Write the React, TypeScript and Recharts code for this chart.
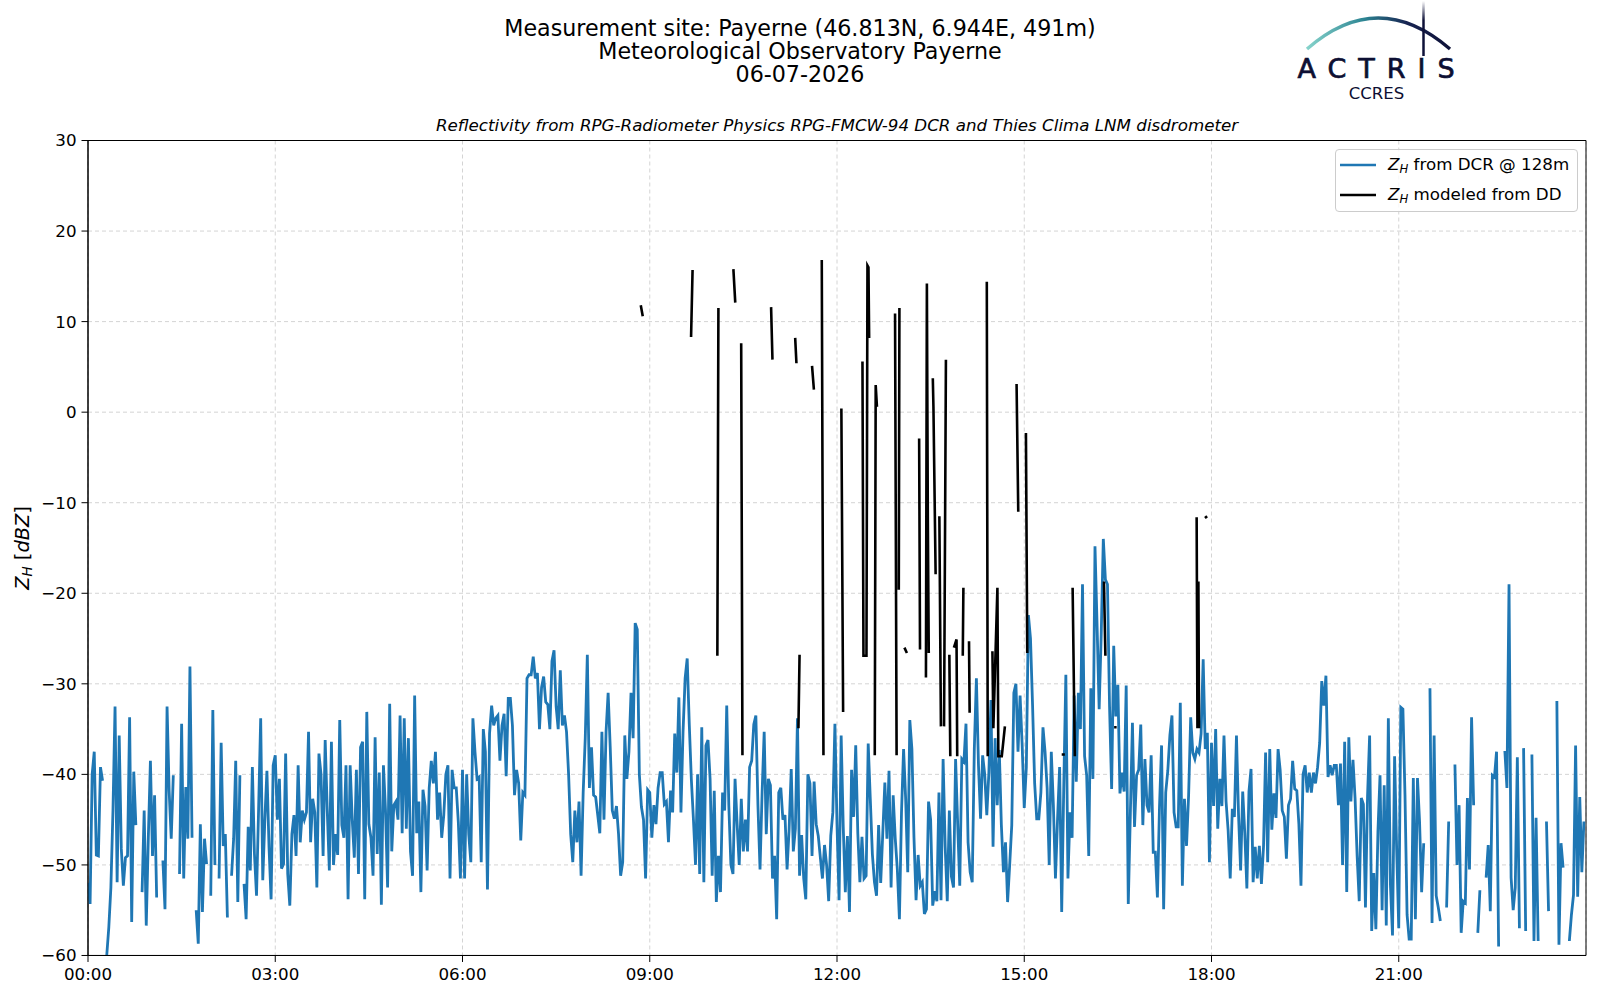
import React from "react"
import { LineChart, Line, XAxis, YAxis, CartesianGrid, Legend, ReferenceArea } from "recharts"

const FONT = "'DejaVu Sans', sans-serif"

// Z_H from the DCR at 128 m, one value every 2 minutes, in 3-hour blocks (null = no data)
const dcr0003 = [
  -52, -54.3, -40, -37.5, -48.9, -49, -39.2, -40.7, null, -60,
  -56.9, -52.5, -44, -32.5, -51.9, -35.7, -48.2, -52.3, -49.2, -49,
  -33.7, -56.3, -39.7, -45.6, null, null, -53, -44, -56.7, -46.9,
  -38.5, -49, -42.3, -53.6, null, null, -49.5, -54.9, -32.5, -41.8,
  -47.1, -40.1, null, null, -51, -34.4, -51.5, -41.4, -47.1, -28.1,
  -47, null, -55, -58.7, -45.5, -55.2, -47.1, -49.9, null, -53.4,
  -32.9, -50, null, -51.5, -36.5, -47.9, -46.6, -55.8, null, -51.2,
  -47.1, -38.5, -54.1, -40.1, null, -52.1, -56, -45.8, -50.6, -39.2,
  -48.8, -53.4, -43.8, -33.8, -51.7, -45, -39.6, -48, -53.8, -39,
]
const dcr0306 = [
  -37.9, -45, -40.5, -50.4, -49.9, -37.7, -51, -54.5, -46.6, -44.5,
  -49, -39, -47.5, -44, -45, -44.2, -35.3, -47.5, -42.7, -44.2,
  -52.5, -37.7, -40, -49, -36.2, -44, -50.6, -36.4, -50, -46.6,
  -48.9, -34, -45.6, -47, -39, -53.8, -39, -45, -49.2, -39.5,
  -51, -37, -36.4, -53.8, -33.1, -45.5, -47, -51.2, -35.9, -48.8,
  -39.8, -54.4, -39, -44, -52.5, -32.2, -48.5, -43.4, -43, -45,
  -33.5, -46.5, -33.8, -46, -36, -48.5, -51.2, -31.3, -46.5, -43,
  -53, -41.7, -43.5, -50.6, -41.5, -38.5, -41, -37.5, -45, -42,
  -47, -44.5, -40, -39, -51.5, -39.5, -41.5, -41.5, -45.3, -51.5,
]
const dcr0609 = [
  -39.5, -51.5, -40, -46.6, -49.7, -33.8, -37.5, -40.5, -40.3, -49.7,
  -35, -37.5, -52.7, -35.5, -32.4, -34.6, -33.8, -33.5, -38.5, -34.6,
  -33.3, -40.2, -31.6, -31.6, -34.6, -42.3, -39.5, -41, -47.3, -42,
  -42.3, -29.4, -29, -29, -27, -29.4, -28.8, -35, -30.4, -29.2,
  -32, -32.3, -35, -27.5, -26.3, -32.5, -35, -28.5, -34.6, -33.5,
  -35.3, -40, -46.6, -49.7, -44, -47.5, -43, -51.2, -42, -36,
  -26.8, -41.5, -37, -42.3, -42.5, -44.5, -46.5, -35.3, -45, -35.3,
  -31, -37, -44, -44.9, -43.5, -46.6, -51.2, -49.7, -35.7, -40.5,
  -37.5, -31, -36, -23.3, -24, -40, -43.6, -45, -51.5, -41.7,
]
const dcr0912 = [
  -42, -47, -43.4, -45.5, -41.5, -39.8, -39.8, -43.3, -43, -47.5,
  -41.8, -44.2, -35.5, -39.8, -31.5, -44.2, -35.3, -29.4, -27.2, -34.5,
  -40.6, -45, -50, -40, -51, -34.8, -51.9, -36.8, -36.2, -40.5,
  -51.2, -41.8, -54.1, -49, -53, -42, -44, -32.4, -43.4, -50,
  -51, -40.5, -45.5, -50, -42.7, -48.5, -45, -48.5, -39.2, -38.5,
  -34.5, -33.5, -43.4, -50.5, -42, -35.3, -46.6, -40.5, -41.2, -51.5,
  -49, -56, -42, -41.5, -45, -44.5, -50.5, -46, -39.4, -48.5,
  -46, -33.8, -51.2, -46.7, -51.5, -53.8, -40, -41, -49, -40.8,
  -45.5, -46.8, -49.2, -51.5, -47.8, -50, -54, -46.8, -44.2, -34.4,
]
const dcr1215 = [
  -45.5, -53.9, -35.7, -45.8, -53, -46.8, -55.2, -39.5, -44.7, -36.8,
  -46.5, -51.9, -46.9, -51.5, -51.2, -36.6, -42.7, -48.8, -51.9, -53.4,
  -45.6, -52, -46.5, -40.9, -47.1, -39.6, -52.5, -42.3, -47.1, -50.5,
  -56, -44.2, -37.2, -42.7, -50.8, -34, -37.2, -47, -53.9, -48.9,
  -52.3, -51.9, -55.4, -54.9, -43, -45, -54.5, -52.9, -54, -42,
  -53.9, -38.3, -48, -54, -44, -51.3, -52.5, -38.3, -45.5, -52.3,
  -38.3, -38.6, -34.4, -47.5, -50.8, -51.9, -37.2, -29.4, -39, -44.9,
  -37.9, -40, -44.5, -39.8, -31.8, -48, -36, -43.4, -37.3, -45.6,
  -50.8, -47.5, -54.1, -50, -45.6, -31, -30, -37.5, -31.3, -36.8,
]
const dcr1518 = [
  -43.7, -39.2, -22.4, -25, -32.4, -41, -44.9, -44.9, -42, -34.8,
  -37.5, -41.5, -50, -37.5, -43.4, -51.5, -45, -39.2, -55.2, -41.2,
  -29, -51.5, -44.2, -47, -31.3, -40.8, -31, -35, -19, -38,
  -40.1, -49, -30.5, -40.5, -14.8, -23.5, -32.8, -24.5, -14, -18.5,
  -19, -32.5, -41.6, -25.8, -33.6, -30.1, -42.1, -39.8, -41.9, -30.2,
  -54.3, -44.3, -34.3, -45.8, -40.1, -39.5, -34.5, -45.6, -38.3, -43.4,
  -44.2, -37.9, -48.6, -48.6, -53.6, -43.6, -36.8, -54.9, -42, -39.6,
  -35.7, -33.5, -44.2, -45.8, -45.8, -32.1, -52.3, -42.7, -47.9, -42.3,
  -33.7, -37.6, -38.3, -37.2, -37.6, -35.5, -27.3, -37.2, -35.4, -49.7,
]
const dcr1821 = [
  -36.5, -43.5, -35, -46, -40.5, -43.5, -35.7, -43, -46.2, -51.5,
  -43.8, -44.7, -35.7, -44.5, -50.6, -41.9, -46.5, -52.6, -41.9, -39.4,
  -51.9, -48, -51.5, -47.9, -52.1, -48, -37.6, -49.7, -37.2, -46.1,
  -42.1, -44.8, -37.2, -39.5, -44, -44.7, -49.3, -43.4, -42.7, -38.5,
  -41.6, -41.8, -45.5, -52.3, -40, -39, -42, -39.8, -42, -39.8,
  -41, -39.2, -36.5, -29.7, -32.4, -29.1, -40.3, -39, -40.1, -39,
  -39, -43.4, -38.8, -50, -36.4, -53, -35.9, -43, -38.4, -42.6,
  -49, -54, -42.6, -43.3, -54.7, -42.4, -35.7, -57.3, -50.9, -57.1,
  -46.3, -40.1, -55, -41.2, -56.7, -33.8, -52.2, -57.8, -38, -48.3,
]
const dcr2124 = [
  -57, -32.6, -32.8, -42.3, -55.5, -58.2, -58.2, -40.4, -56, -40.4,
  -45.2, -53, -47.6, null, null, -30.5, -56.4, -35.7, -53.4, -54.7,
  -56.2, null, null, -54.7, -45.2, null, null, -38.9, -50, -43.4,
  -57.5, -54, -54.2, -42.6, -50.5, -33.7, -43.4, null, -57.5, -52.8,
  null, null, -51.4, -47.8, -55.1, -40.1, -40.3, -37.5, -59, null,
  null, -37.4, -41.5, -19, -51.4, -55, -52.5, -38.1, -57, null,
  -37.1, -57.3, null, null, -37.8, -58.4, -44.8, -58.4, null, null,
  null, -45.2, -55.1, null, null, null, -31.9, -58.8, -47.6, -50.3,
  null, null, -58.4, -55.5, -53.3, -36.8, -53.5, -42.5, -50.8, -45.2,
]
const dcrBlocks = [dcr0003, dcr0306, dcr0609, dcr0912, dcr1215, dcr1518, dcr1821, dcr2124]
const DCR_STEP_H = 2 / 60

// Z_H modeled from the disdrometer: short pieces of [hour, dBZ]
const ddPieces = [
  [[8.856, 11.8], [8.888, 10.6]],
  [[9.662, 8.3], [9.686, 15.7]],
  [[10.083, -26.9], [10.1, 11.5]],
  [[10.34, 15.8], [10.37, 12.1]],
  [[10.465, 7.6], [10.485, -37.9]],
  [[10.944, 11.6], [10.966, 5.8]],
  [[11.33, 8.2], [11.35, 5.4]],
  [[11.382, -34.9], [11.4, -26.8]],
  [[11.6, 5.1], [11.63, 2.5]],
  [[11.756, 16.8], [11.783, -37.9]],
  [[12.07, 0.4], [12.098, -33.1]],
  [[12.408, 5.6], [12.424, -26.9], [12.472, -26.9], [12.488, 16.2], [12.504, 16.0], [12.515, 8.2]],
  [[12.605, -37.9], [12.62, 3.0], [12.64, 0.6]],
  [[12.93, 10.9], [12.955, -37.9]],
  [[12.99, -19.6], [13.0, 11.5]],
  [[13.08, -26.0], [13.12, -26.6]],
  [[13.316, -2.9], [13.33, -26.2]],
  [[13.425, -29.3], [13.44, 14.2], [13.455, -11.5], [13.47, -26.6]],
  [[13.535, 3.75], [13.545, 0.6], [13.58, -17.9]],
  [[13.64, -11.5], [13.665, -34.7]],
  [[13.715, -34.7], [13.745, 5.8]],
  [[13.8, -26.8], [13.815, -38]],
  [[13.873, -26], [13.915, -25.1], [13.926, -38]],
  [[14.015, -26.9], [14.025, -19.4]],
  [[14.115, -25.3], [14.125, -33.2]],
  [[14.4, 14.4], [14.415, -38]],
  [[14.49, -26.4], [14.505, -34.9], [14.57, -19.4], [14.585, -38], [14.64, -38], [14.69, -34.7]],
  [[14.877, 3.1], [14.904, -11.0]],
  [[15.027, -2.3], [15.048, -26.6]],
  [[15.6, -37.8], [15.65, -37.8]],
  [[15.775, -19.4], [15.81, -38]],
  [[16.277, -18.7], [16.3, -26.9]],
  [[16.44, -34.8], [16.48, -34.8]],
  [[17.762, -11.6], [17.775, -34.9], [17.79, -18.7], [17.8, -34.9]],
  [[17.895, -11.7], [17.93, -11.5]],
]

const xMajor = [0, 3, 6, 9, 12, 15, 18, 21]
const xMinor = [0, 1, 2, 3, 4, 5, 6, 7, 8, 9, 10, 11, 12, 13, 14, 15, 16, 17, 18, 19, 20, 21, 22, 23]
const yMajor = [-60, -50, -40, -30, -20, -10, 0, 10, 20, 30]
const yMinor = [
  -60, -58, -56, -54, -52, -50, -48, -46, -44, -42, -40, -38, -36, -34, -32, -30,
  -28, -26, -24, -22, -20, -18, -16, -14, -12, -10, -8, -6, -4, -2, 0,
  2, 4, 6, 8, 10, 12, 14, 16, 18, 20, 22, 24, 26, 28, 30,
]

const titleLines = [
  "Measurement site: Payerne (46.813N, 6.944E, 491m)",
  "Meteorological Observatory Payerne",
  "06-07-2026",
]
const subtitle = "Reflectivity from RPG-Radiometer Physics RPG-FMCW-94 DCR and Thies Clima LNM disdrometer"
const seriesNames = ["from DCR @ 128m", "modeled from DD"]

const dcrData = dcrBlocks.flat().map((zh, i) => ({ t: i * DCR_STEP_H, zh }))
const ddData = ddPieces.flatMap((piece) => [
  ...piece.map(([t, zh]) => ({ t, zh })),
  { t: piece[piece.length - 1][0] + 0.002, zh: null },
])

const fmtHour = (h: number) => `${String(h).padStart(2, "0")}:00`
const fmtY = (v: number) => (v < 0 ? `\u2212${-v}` : `${v}`)

const Zh = () => (
  <>
    <i>Z</i>
    <sub style={{ fontSize: "0.7em", fontStyle: "italic", verticalAlign: "-0.25em" }}>H</sub>
  </>
)

const LegendBox = (props: any) => {
  const items = props.payload || []
  return (
    <div
      style={{
        boxSizing: "border-box",
        width: 243,
        height: 63,
        border: "1px solid #cccccc",
        borderRadius: 4,
        background: "rgba(255,255,255,0.8)",
        padding: "0 0 0 4px",
        fontFamily: FONT,
        fontSize: 16.7,
        color: "#000",
      }}
    >
      {items.map((e: any, i: number) => (
        <div key={i} style={{ display: "flex", alignItems: "center", height: 30 }}>
          <svg width={36} height={6}>
            <line x1={0} x2={36} y1={3} y2={3} stroke={e.color} strokeWidth={2.6} />
          </svg>
          <span style={{ marginLeft: 12, whiteSpace: "nowrap" }}>
            <Zh /> {e.value}
          </span>
        </div>
      ))}
    </div>
  )
}

export default function App() {
  return (
    <div style={{ position: "absolute", left: 0, top: 0, width: 1600, height: 1000, background: "#fff", fontFamily: FONT }}>
      {titleLines.map((line, i) => (
        <div
          key={i}
          style={{
            position: "absolute",
            left: 0,
            width: 1600,
            top: 17 + i * 23,
            textAlign: "center",
            fontSize: 22.2,
            lineHeight: "23px",
            color: "#000",
          }}
        >
          {line}
        </div>
      ))}
      <div
        style={{
          position: "absolute",
          left: 88,
          width: 1498,
          top: 115,
          textAlign: "center",
          fontSize: 16.7,
          lineHeight: "21px",
          fontStyle: "italic",
          color: "#000",
        }}
      >
        {subtitle}
      </div>

      {/* ACTRIS / CCRES logo */}
      <svg style={{ position: "absolute", left: 0, top: 0 }} width={1600} height={110}>
        <defs>
          <linearGradient id="arcGrad" x1="1307" y1="0" x2="1450" y2="0" gradientUnits="userSpaceOnUse">
            <stop offset="0" stopColor="#86d3cb" />
            <stop offset="0.4" stopColor="#2d8593" />
            <stop offset="0.7" stopColor="#172351" />
            <stop offset="1" stopColor="#0e1138" />
          </linearGradient>
          <linearGradient id="mastGrad" x1="0" y1="1" x2="0" y2="56" gradientUnits="userSpaceOnUse">
            <stop offset="0" stopColor="#0e1138" stopOpacity="0" />
            <stop offset="0.35" stopColor="#0e1138" stopOpacity="1" />
          </linearGradient>
        </defs>
        <path d="M1307,49 Q1378,-13 1450,49" stroke="url(#arcGrad)" strokeWidth={3.4} fill="none" />
        <line x1={1423.5} y1={1} x2={1423.5} y2={56} stroke="url(#mastGrad)" strokeWidth={2.5} />
        <text
          x={1382}
          y={78}
          textAnchor="middle"
          fontSize={27}
          letterSpacing={12}
          fill="#0d0f33"
          stroke="#0d0f33"
          strokeWidth={0.7}
          fontFamily={FONT}
        >
          ACTRIS
        </text>
        <text x={1376.5} y={99} textAnchor="middle" fontSize={16.5} fill="#0d0f33" fontFamily={FONT}>
          CCRES
        </text>
      </svg>

      <div
        style={{
          position: "absolute",
          left: 22.5,
          top: 548,
          transform: "translate(-50%, -50%) rotate(-90deg)",
          whiteSpace: "nowrap",
          fontSize: 19.4,
          color: "#000",
        }}
      >
        <Zh /> [<i>dBZ</i>]
      </div>

      <div style={{ position: "absolute", left: 0, top: 0 }}>
        <LineChart width={1600} height={1000} margin={{ top: 140.5, right: 14, bottom: 44.5, left: 87.98 }}>
          <CartesianGrid stroke="#d4d4d4" strokeDasharray="4 3" strokeWidth={1} />
          <XAxis
            dataKey="t"
            type="number"
            domain={[0, 24]}
            allowDataOverflow
            ticks={xMajor}
            interval={0}
            tickFormatter={fmtHour}
            height={0.01}
            tickSize={6.5}
            tickMargin={6}
            tick={{ fill: "#000", fontSize: 16.7, fontFamily: FONT }}
            tickLine={{ stroke: "#000" }}
            axisLine={{ stroke: "#000" }}
          />
          <XAxis
            xAxisId="minor"
            dataKey="t"
            type="number"
            domain={[0, 24]}
            allowDataOverflow
            ticks={xMinor}
            interval={0}
            height={0.01}
            tickSize={3.5}
            tick={false}
            tickLine={{ stroke: "#000" }}
            axisLine={false}
          />
          <YAxis
            type="number"
            domain={[-60, 30]}
            allowDataOverflow
            ticks={yMajor}
            interval={0}
            tickFormatter={fmtY}
            width={0.01}
            tickSize={6.5}
            tickMargin={5}
            tick={{ fill: "#000", fontSize: 16.7, fontFamily: FONT }}
            tickLine={{ stroke: "#000" }}
            axisLine={{ stroke: "#000" }}
          />
          <YAxis
            yAxisId="minor"
            type="number"
            domain={[-60, 30]}
            allowDataOverflow
            ticks={yMinor}
            interval={0}
            width={0.01}
            tickSize={3.5}
            tick={false}
            tickLine={{ stroke: "#000" }}
            axisLine={false}
          />
          <Line
            data={dcrData}
            dataKey="zh"
            name={seriesNames[0]}
            stroke="#1f77b4"
            strokeWidth={2.8}
            dot={false}
            activeDot={false}
            connectNulls={false}
            isAnimationActive={false}
          />
          <Line
            data={ddData}
            dataKey="zh"
            name={seriesNames[1]}
            stroke="#000000"
            strokeWidth={2.6}
            dot={false}
            activeDot={false}
            connectNulls={false}
            isAnimationActive={false}
          />
          <ReferenceArea x1={0} x2={24} y1={-60} y2={30} fill="none" stroke="#000" strokeWidth={1} ifOverflow="visible" />
          <Legend
            layout="vertical"
            align="center"
            verticalAlign="middle"
            content={LegendBox}
            wrapperStyle={{ left: 1335, top: 149, width: 243, height: 63 }}
          />
        </LineChart>
      </div>
    </div>
  )
}
